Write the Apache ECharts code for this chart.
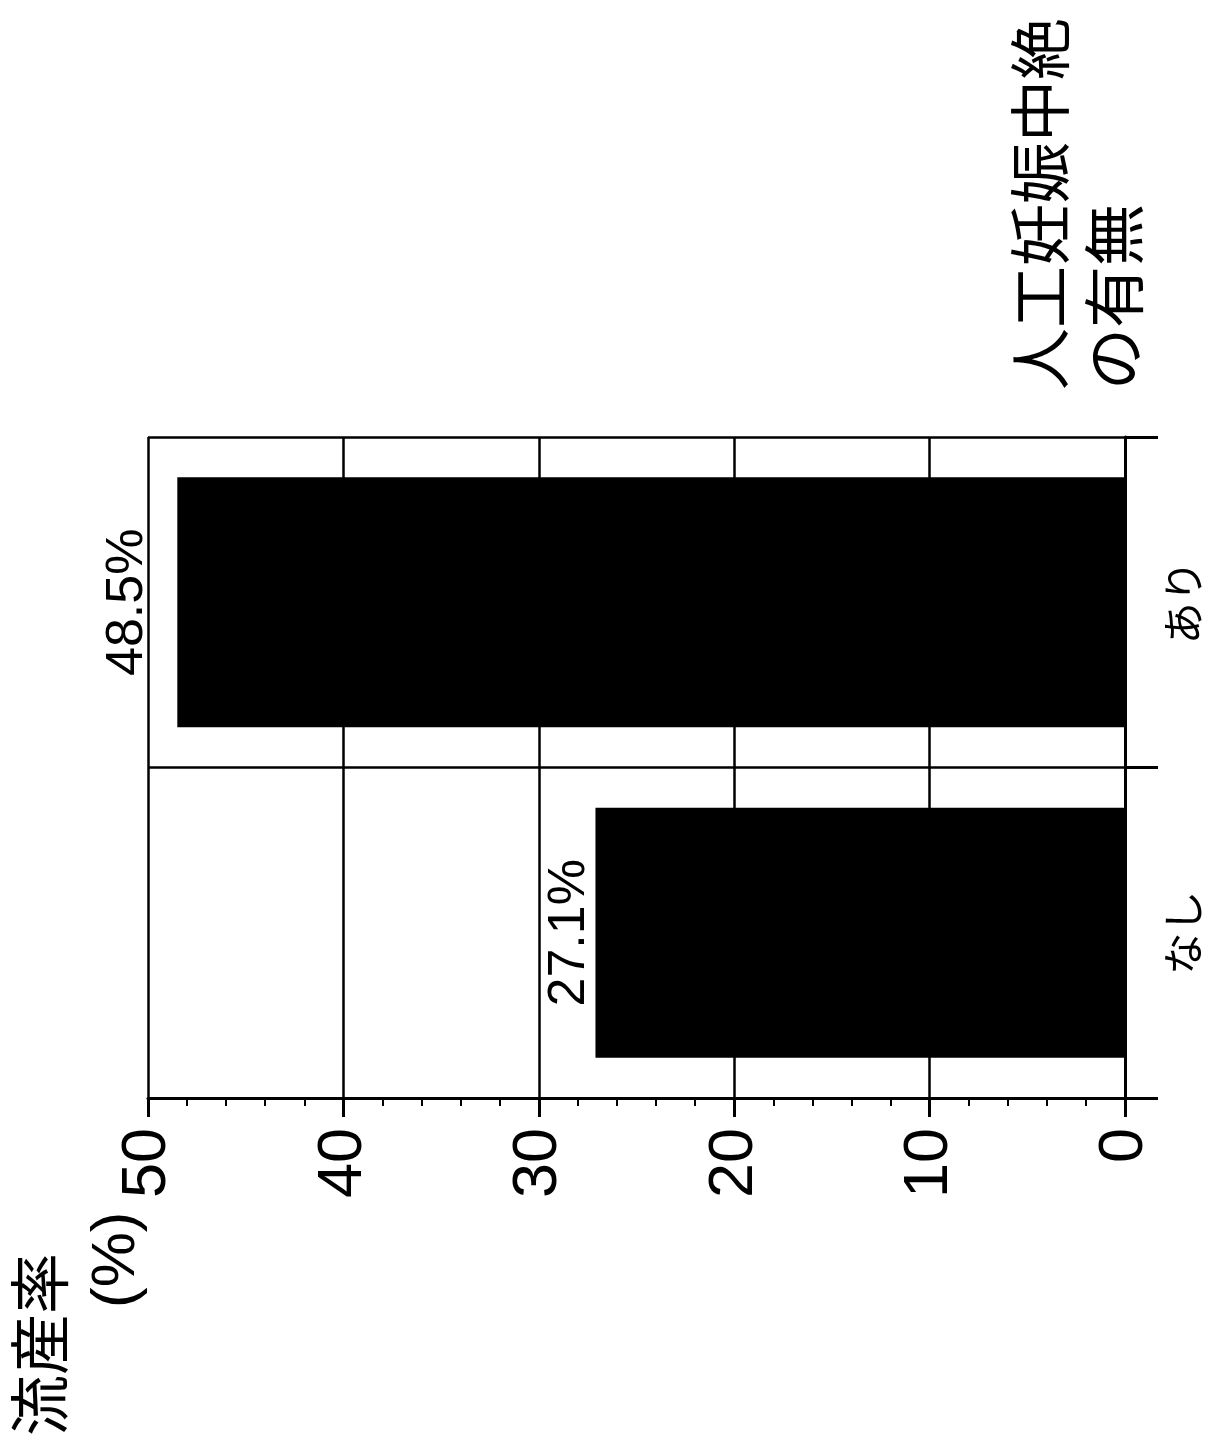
<!DOCTYPE html>
<html><head><meta charset="utf-8">
<script src="https://cdn.jsdelivr.net/npm/echarts@6/dist/echarts.min.js"></script>
<style>html,body{margin:0;padding:0;background:#fff}#c{width:1209px;height:1441px}</style>
</head><body><div id="c"></div>
<script>
const categories = ['なし', 'あり'];
const rates = [27.1, 48.5];
const valueTicks = [0, 10, 20, 30, 40, 50];
const axisTitle = ['流産率', '(%)'];
const groupTitle = ['人工妊娠中絶', 'の有無'];

const chart = echarts.init(document.getElementById('c'), null, {renderer: 'canvas'});
const labelGaps = [0, 24];
chart.setOption({
  animation: false,
  backgroundColor: '#fff',
  grid: {left: 148, right: 84, top: 437, bottom: 343},
  xAxis: {
    type: 'value', inverse: true, min: valueTicks[0], max: valueTicks[valueTicks.length - 1], interval: 10, position: 'bottom',
    axisLine: {show: true, onZero: false, lineStyle: {color: '#000', width: 3}},
    axisTick: {show: true, inside: false, length: 19, lineStyle: {color: '#000', width: 3}},
    minorTick: {show: true, splitNumber: 5, length: 8, lineStyle: {color: '#000', width: 2}},
    splitLine: {show: true, lineStyle: {color: '#000', width: 2.5}},
    axisLabel: {rotate: 90, margin: 30, fontSize: 63, color: '#000', fontFamily: 'Liberation Sans',
      formatter: v => valueTicks.includes(v) ? String(v) : ''}
  },
  yAxis: {
    type: 'category', data: categories, position: 'right',
    axisLine: {show: true, onZero: false, lineStyle: {color: '#000', width: 3}},
    axisTick: {show: true, inside: false, length: 33, lineStyle: {color: '#000', width: 3}},
    splitLine: {show: true, lineStyle: {color: '#000', width: 2.5}},
    axisLabel: {rotate: 90, margin: 37, fontSize: 42, color: '#000', fontFamily: 'Noto Sans CJK JP'}
  },
  series: [{
    type: 'bar', barWidth: 250, itemStyle: {color: '#000'},
    data: rates.map((v, i) => ({value: v, label: {distance: labelGaps[i]}})),
    label: {show: true, position: 'left', rotate: 90, align: 'center', verticalAlign: 'bottom',
      fontSize: 52, color: '#000', fontFamily: 'Liberation Sans',
      formatter: p => p.value.toFixed(1) + '%'}
  }],
  graphic: [
    {type: 'text', x: 1003, y: 390, rotation: Math.PI / 2,
      style: {text: groupTitle.join('\n'), font: '62px "Noto Sans CJK JP"', lineHeight: 74,
        textAlign: 'left', textVerticalAlign: 'top', fill: '#000'}},
    {type: 'text', x: 9, y: 1436, rotation: Math.PI / 2,
      style: {text: axisTitle[0], font: '61px "Noto Sans CJK JP"', textAlign: 'left', textVerticalAlign: 'top', fill: '#000'}},
    {type: 'text', x: 86, y: 1308, rotation: Math.PI / 2,
      style: {text: axisTitle[1], font: '62px "Liberation Sans"', textAlign: 'left', textVerticalAlign: 'top', fill: '#000'}}
  ]
});
</script></body></html>
